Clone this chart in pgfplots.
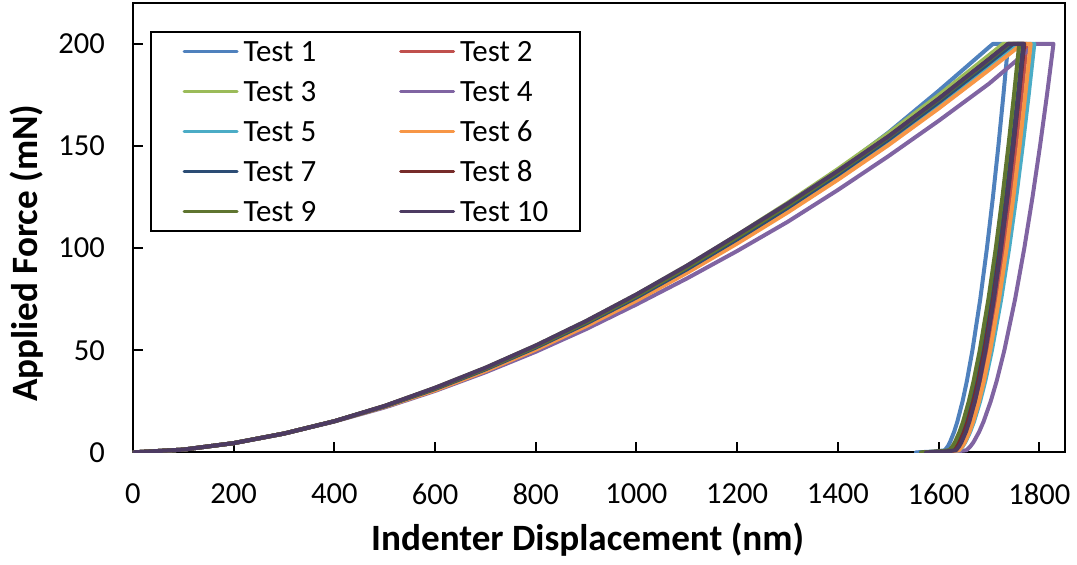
\documentclass[border=0pt]{standalone}
\usepackage{pgfplots}
\pgfplotsset{compat=1.18}
\usepackage{fontspec}
\setmainfont{Carlito}
\definecolor{c1}{HTML}{4F81BD}
\definecolor{c2}{HTML}{C0504D}
\definecolor{c3}{HTML}{9BBB59}
\definecolor{c4}{HTML}{8064A2}
\definecolor{c5}{HTML}{4BACC6}
\definecolor{c6}{HTML}{F79646}
\definecolor{c7}{HTML}{2C4D75}
\definecolor{c8}{HTML}{772C2A}
\definecolor{c9}{HTML}{5F7530}
\definecolor{c10}{HTML}{4D3B62}
\begin{document}
\begin{tikzpicture}
\begin{axis}[
  scale only axis, width=466.5pt, height=225pt,
  xmin=0, xmax=1850, ymin=0, ymax=220,
  xtick={0,200,...,1800}, ytick={0,50,...,200},
  scaled x ticks=false, scaled y ticks=false,
  /pgf/number format/1000 sep={},
  /pgf/number format/assume math mode=true,
  tick align=inside, xtick pos=bottom, ytick pos=left,
  major tick length=5pt,
  axis line style={line width=1pt},
  every tick/.style={black, line width=1pt},
  ticklabel style={font=\fontsize{15.3}{18}\selectfont},
  yticklabel style={xshift=-10.5pt},
  xticklabel style={yshift=-12pt},
  xlabel={Indenter Displacement (nm)},
  ylabel={Applied Force (mN)},
  label style={font=\fontsize{18.6}{22}\selectfont\bfseries},
  xlabel style={at={(axis description cs:0.4882,-0.2178)}, anchor=base},
  ylabel style={at={(axis description cs:-0.1018,0.443)}, anchor=base},
  legend columns=2,
  legend cell align=left,
  legend image code/.code={\draw[line width=1.5pt] (0pt,0pt) -- (26.5pt,0pt);},
  legend style={at={(axis description cs:0.0182,0.9378)}, anchor=north west,
    draw=black, line width=1pt, inner xsep=16pt, inner ysep=4.5pt,
    font=\fontsize{15.5}{18}\selectfont,
    nodes={inner sep=0pt, text height=10.5pt, text depth=0pt},
    row sep=9.5pt,
    /tikz/every odd column/.append style={column sep=2.5pt},
    /tikz/every even column/.append style={column sep=41.5pt}},
  every axis plot/.append style={line width=2pt, line join=round, line cap=round},
]
\addplot[c1] coordinates {(0,0)(100,1.35)(200,4.52)(300,9.21)(400,15.24)(500,22.53)(600,31)(700,40.61)(800,51.3)(900,63.05)(1000,75.83)(1100,89.6)(1200,104.34)(1300,120.64)(1400,138.04)(1500,156.53)(1600,176.99)(1700,198.35)(1708,200)(1738,200)(1728.6,175)(1718.6,150)(1707.8,125)(1695.9,100)(1682.6,75)(1667.1,50)(1656.1,35)(1647.5,25)(1637.1,15)(1630.7,10)(1622.6,5)(1618.3,3)(1612.2,1)(1590,0.4)(1555,0)};
\addlegendentry{Test 1}
\addplot[c2] coordinates {(0,0)(100,1.35)(200,4.52)(300,9.21)(400,15.24)(500,22.36)(600,30.54)(700,40)(800,50.53)(900,62.1)(1000,74.69)(1100,88.26)(1200,102.77)(1300,118)(1400,134.07)(1500,150.98)(1600,169.04)(1700,187.98)(1762,200)(1775,200)(1764.6,175)(1753.5,150)(1741.6,125)(1728.5,100)(1713.8,75)(1696.7,50)(1684.5,35)(1674.9,25)(1663.5,15)(1656.4,10)(1647.4,5)(1642.7,3)(1636,1)(1613,0.4)(1575,0)};
\addlegendentry{Test 2}
\addplot[c3] coordinates {(0,0)(100,1.35)(200,4.52)(300,9.21)(400,15.24)(500,22.76)(600,31.62)(700,41.42)(800,52.33)(900,64.31)(1000,77.35)(1100,91.39)(1200,106.43)(1300,122.15)(1400,138.73)(1500,156.18)(1600,174.86)(1700,194.45)(1728,200)(1765,200)(1754.6,175)(1743.5,150)(1731.6,125)(1718.5,100)(1703.8,75)(1686.7,50)(1674.5,35)(1664.9,25)(1653.5,15)(1646.4,10)(1637.4,5)(1632.7,3)(1626,1)(1603,0.4)(1570,0)};
\addlegendentry{Test 3}
\addplot[c4] coordinates {(0,0)(100,1.34)(200,4.47)(300,9.12)(400,15.09)(500,21.97)(600,30.07)(700,39.19)(800,49.25)(900,60.34)(1000,72.42)(1100,85.12)(1200,98.6)(1300,112.84)(1400,128.47)(1500,144.97)(1600,162.31)(1700,180.49)(1750,190.9)(1792,200)(1828,200)(1815.1,175)(1801.3,150)(1786.4,125)(1770.1,100)(1751.8,75)(1730.5,50)(1715.3,35)(1703.4,25)(1689.1,15)(1680.3,10)(1669.2,5)(1663.2,3)(1655,1)(1630,0.4)(1590,0)};
\addlegendentry{Test 4}
\addplot[c5] coordinates {(0,0)(100,1.35)(200,4.52)(300,9.21)(400,15.24)(500,22.42)(600,30.69)(700,40.2)(800,50.79)(900,62.42)(1000,75.07)(1100,88.7)(1200,103.3)(1300,118.64)(1400,134.85)(1500,151.91)(1600,170.08)(1700,189.13)(1756,200)(1790,200)(1778.8,175)(1766.9,150)(1754.1,125)(1740,100)(1724.2,75)(1705.8,50)(1692.7,35)(1682.4,25)(1670.1,15)(1662.5,10)(1652.9,5)(1647.8,3)(1640.6,1)(1617,0.4)(1590,0)};
\addlegendentry{Test 5}
\addplot[c6] coordinates {(0,0)(100,1.35)(200,4.52)(300,9.21)(400,15.24)(500,22.31)(600,30.38)(700,39.8)(800,50.27)(900,61.79)(1000,74.31)(1100,87.81)(1200,102.25)(1300,117.44)(1400,133.48)(1500,150.36)(1600,168.35)(1700,187.21)(1766,200)(1782.7,200)(1772,175)(1760.7,150)(1748.4,125)(1735,100)(1719.9,75)(1702.4,50)(1689.9,35)(1680.1,25)(1668.3,15)(1661.1,10)(1651.9,5)(1647,3)(1640.2,1)(1617,0.4)(1580,0)};
\addlegendentry{Test 6}
\addplot[c7] coordinates {(0,0)(100,1.35)(200,4.52)(300,9.21)(400,15.24)(500,22.53)(600,31)(700,40.61)(800,51.3)(900,63.05)(1000,75.83)(1100,89.6)(1200,104.34)(1300,119.74)(1400,135.99)(1500,153.06)(1600,171.37)(1700,190.57)(1748,200)(1768,200)(1757.4,175)(1746.1,150)(1733.9,125)(1720.5,100)(1705.5,75)(1688.1,50)(1675.6,35)(1665.9,25)(1654.2,15)(1647,10)(1637.8,5)(1633,3)(1626.2,1)(1603,0.4)(1568,0)};
\addlegendentry{Test 7}
\addplot[c8] coordinates {(0,0)(100,1.35)(200,4.52)(300,9.21)(400,15.24)(500,22.7)(600,31.47)(700,41.22)(800,52.07)(900,64)(1000,76.97)(1100,90.94)(1200,105.91)(1300,121.34)(1400,137.59)(1500,154.61)(1600,173.1)(1700,192.49)(1738,200)(1770,200)(1759.5,175)(1748.4,150)(1736.3,125)(1723.2,100)(1708.4,75)(1691.1,50)(1678.8,35)(1669.3,25)(1657.7,15)(1650.6,10)(1641.5,5)(1636.8,3)(1630.1,1)(1607,0.4)(1570,0)};
\addlegendentry{Test 8}
\addplot[c9] coordinates {(0,0)(100,1.35)(200,4.52)(300,9.21)(400,15.24)(500,22.64)(600,31.31)(700,41.02)(800,51.81)(900,63.68)(1000,76.59)(1100,90.5)(1200,105.38)(1300,120.84)(1400,137.12)(1500,154.22)(1600,172.67)(1700,192.01)(1740,200)(1760,200)(1749.6,175)(1738.5,150)(1726.6,125)(1713.5,100)(1698.8,75)(1681.7,50)(1669.5,35)(1659.9,25)(1648.5,15)(1641.4,10)(1632.4,5)(1627.7,3)(1621,1)(1598,0.4)(1565,0)};
\addlegendentry{Test 9}
\addplot[c10] coordinates {(0,0)(100,1.35)(200,4.52)(300,9.21)(400,15.24)(500,22.76)(600,31.62)(700,41.42)(800,52.33)(900,64.31)(1000,77.35)(1100,91.39)(1200,106.43)(1300,121.74)(1400,137.8)(1500,154.61)(1600,173.1)(1700,192.49)(1738,200)(1769,200)(1758.9,175)(1748.2,150)(1736.6,125)(1723.9,100)(1709.7,75)(1693.1,50)(1681.2,35)(1672,25)(1660.9,15)(1654,10)(1645.3,5)(1640.7,3)(1634.3,1)(1611,0.4)(1575,0)};
\addlegendentry{Test 10}
\end{axis}
\path (current axis.south west) ++(-66.5pt,-56pt) coordinate (bbA);
\path (current axis.north east) ++(5.5pt,1.5pt) coordinate (bbB);
\path (bbA) rectangle (bbB);
\end{tikzpicture}
\end{document}
